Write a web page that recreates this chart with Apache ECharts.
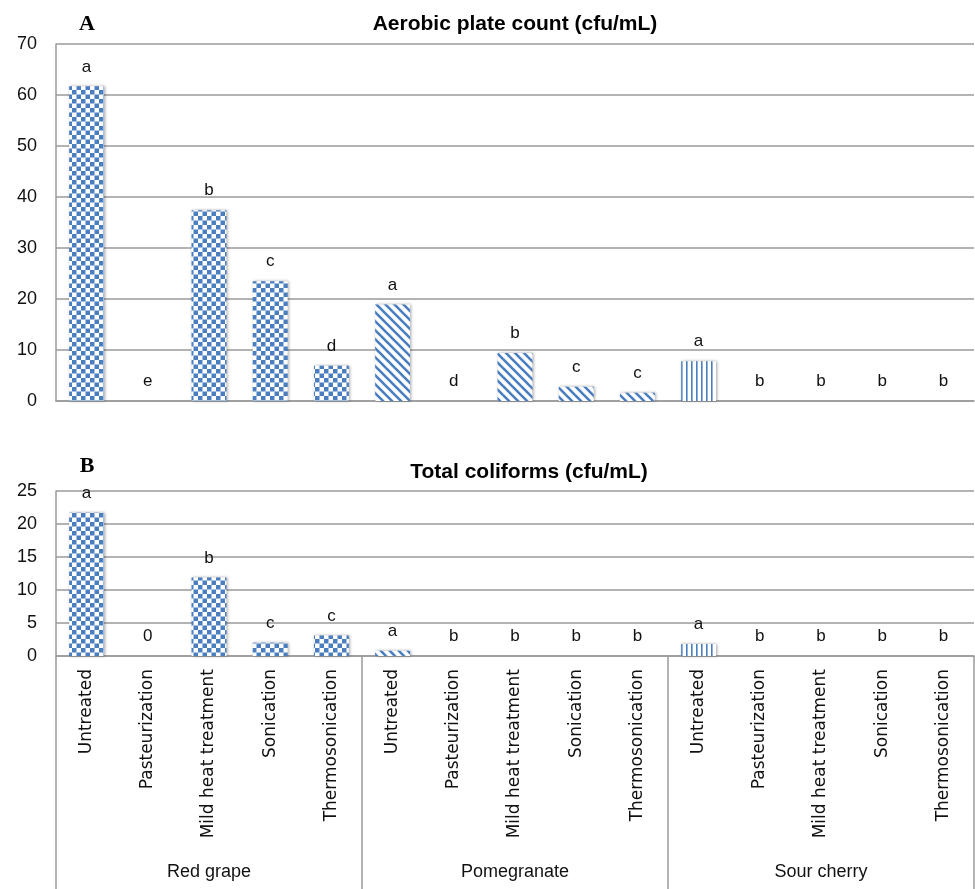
<!DOCTYPE html>
<html>
<head>
<meta charset="utf-8">
<script src="https://cdn.jsdelivr.net/npm/echarts@6/dist/echarts.min.js"></script>
<style>
html,body{margin:0;padding:0;background:#fff;}
#chart{width:975px;height:889px;}
</style>
</head>
<body>
<div id="chart"></div>
<script>
// ---- data ----
const groups = ['Red grape', 'Pomegranate', 'Sour cherry'];
const treatments = ['Untreated', 'Pasteurization', 'Mild heat treatment', 'Sonication', 'Thermosonication'];
const aerobicValues = [61.7, 0, 37.4, 23.5, 6.9,   18.9, 0, 9.4, 2.8, 1.6,   7.8, 0, 0, 0, 0];
const aerobicLetters = ['a', 'e', 'b', 'c', 'd',   'a', 'd', 'b', 'c', 'c',   'a', 'b', 'b', 'b', 'b'];
const coliformValues = [21.7, 0, 11.9, 2.0, 3.1,   0.8, 0, 0, 0, 0,   1.8, 0, 0, 0, 0];
const coliformLetters = ['a', '0', 'b', 'c', 'c',   'a', 'b', 'b', 'b', 'b',   'a', 'b', 'b', 'b', 'b'];
const aerobicTicks = {min: 0, max: 70, interval: 10};
const coliformTicks = {min: 0, max: 25, interval: 5};

// ---- patterns ----
const BLUE = '#4a7ebf';
function makeCanvas(w, h, draw) {
  const c = document.createElement('canvas');
  c.width = w; c.height = h;
  const ctx = c.getContext('2d');
  ctx.fillStyle = '#ffffff';
  ctx.fillRect(0, 0, w, h);
  draw(ctx, w, h);
  return c;
}
const checker = makeCanvas(9, 9, (ctx) => {
  ctx.fillStyle = BLUE;
  ctx.fillRect(0, 0, 4.5, 4.5);
  ctx.fillRect(4.5, 4.5, 4.5, 4.5);
});
const diagonal = makeCanvas(9, 9, (ctx, w, h) => {
  ctx.strokeStyle = BLUE;
  ctx.lineWidth = 2.6;
  for (let k = -2; k <= 2; k++) {
    ctx.beginPath();
    ctx.moveTo(k * w - 2, -2);
    ctx.lineTo(k * w + w + 2, h + 2);
    ctx.stroke();
  }
});
const vertical = makeCanvas(5, 5, (ctx) => {
  ctx.fillStyle = BLUE;
  ctx.fillRect(1, 0, 1.6, 5);
});
const patterns = [checker, diagonal, vertical].map(img => ({image: img, repeat: 'repeat'}));

const categories = [];
groups.forEach(() => treatments.forEach(t => categories.push(t)));

function buildData(values) {
  return values.map((v, i) => ({
    value: v,
    itemStyle: {
      color: patterns[Math.floor(i / treatments.length)],
      shadowBlur: 3,
      shadowColor: 'rgba(0,0,0,0.35)',
      shadowOffsetX: 1
    }
  }));
}

const GRID_COLOR = '#9a9a9a';
const FONT = 'Liberation Sans';

const chart = echarts.init(document.getElementById('chart'), null, {renderer: 'canvas'});

function yAxis(gridIndex, t) {
  return {
    type: 'value', gridIndex: gridIndex, min: t.min, max: t.max, interval: t.interval,
    axisLine: {show: true, lineStyle: {color: GRID_COLOR, width: 1.5}},
    axisTick: {show: false},
    splitLine: {show: true, lineStyle: {color: GRID_COLOR, width: 1.5}},
    axisLabel: {color: '#111', fontSize: 18, fontFamily: FONT, margin: 19}
  };
}

function labelFor(letters) {
  return {
    show: true, position: 'top', distance: 11,
    fontSize: 17, fontFamily: FONT, color: '#111',
    formatter: p => letters[p.dataIndex]
  };
}

chart.setOption({
  animation: false,
  title: [
    {text: 'A', left: 82, top: 8, textAlign: 'center', textStyle: {fontFamily: 'Liberation Serif', fontWeight: 'bold', fontSize: 22, color: '#000'}},
    {text: 'Aerobic plate count (cfu/mL)', left: 510, top: 9, textAlign: 'center', textStyle: {fontFamily: FONT, fontWeight: 'bold', fontSize: 21, color: '#000'}},
    {text: 'B', left: 82, top: 450, textAlign: 'center', textStyle: {fontFamily: 'Liberation Serif', fontWeight: 'bold', fontSize: 22, color: '#000'}},
    {text: 'Total coliforms (cfu/mL)', left: 524, top: 457, textAlign: 'center', textStyle: {fontFamily: FONT, fontWeight: 'bold', fontSize: 21, color: '#000'}}
  ],
  grid: [
    {left: 56, right: 1, top: 44, height: 357},
    {left: 56, right: 1, top: 491, height: 165}
  ],
  xAxis: [
    {type: 'category', gridIndex: 0, data: categories,
     axisLine: {show: true, lineStyle: {color: GRID_COLOR, width: 1.5}},
     axisTick: {show: false}, axisLabel: {show: false}},
    {type: 'category', gridIndex: 1, data: categories,
     axisLine: {show: true, lineStyle: {color: GRID_COLOR, width: 1.5}},
     axisTick: {show: false},
     axisLabel: {show: true, rotate: 90, interval: 0, margin: 13, fontSize: 17, fontFamily: 'DejaVu Sans', color: '#111'}},
    {type: 'category', gridIndex: 1, data: groups, position: 'bottom',
     axisLine: {show: false},
     axisTick: {show: true, interval: 0, length: 240, lineStyle: {color: GRID_COLOR, width: 1.5}},
     axisLabel: {show: true, interval: 0, margin: 207, fontSize: 18, fontFamily: FONT, color: '#111'}}
  ],
  yAxis: [yAxis(0, aerobicTicks), yAxis(1, coliformTicks)],
  series: [
    {type: 'bar', xAxisIndex: 0, yAxisIndex: 0, data: buildData(aerobicValues),
     barCategoryGap: '43%', label: labelFor(aerobicLetters)},
    {type: 'bar', xAxisIndex: 1, yAxisIndex: 1, data: buildData(coliformValues),
     barCategoryGap: '43%', label: labelFor(coliformLetters)}
  ]
});
</script>
</body>
</html>
